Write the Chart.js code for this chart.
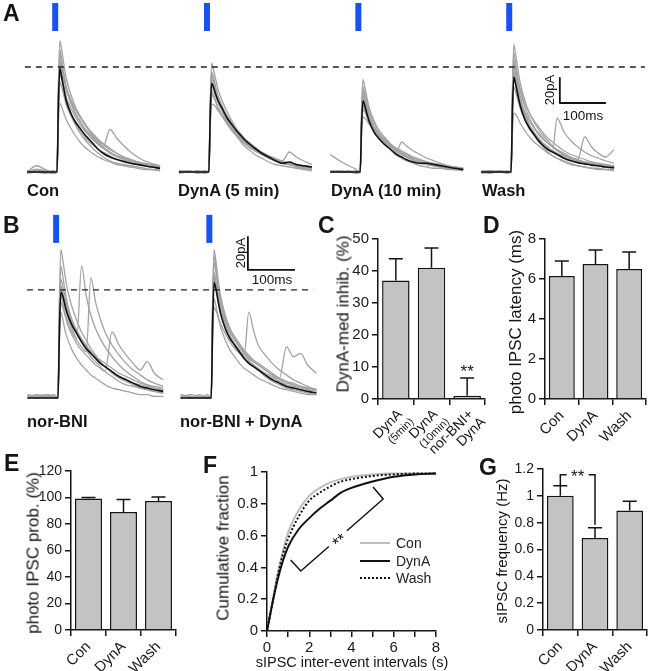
<!DOCTYPE html>
<html lang="en">
<head>
<meta charset="UTF-8">
<title>DynA inhibition of photo-evoked IPSCs</title>
<script src="https://cdn.jsdelivr.net/npm/chart.js"></script>
<style>
  body { margin: 0; background: #fff; font-family: "Liberation Sans", Arial, sans-serif; }
  #fig { position: relative; width: 650px; height: 671px; overflow: hidden; }
  #fig canvas { position: absolute; }
  .t { position: absolute; white-space: nowrap; line-height: 1; color: #151515; }
</style>
</head>
<body>
<div id="fig"></div>
<script>
// ---- trace data (pA), sampled at these times (ms) after the light pulse ----
const T = [-65, -45, -25, -8, 0, 3, 6, 10, 15, 20, 30, 40, 50, 60, 70, 80, 90, 100, 115, 130, 145, 160, 175, 190, 205, 224];

const conMean = [0,0,0,0,0,55,83,76,66,57,47,40,35,30,26,22,18,15,12,10,8.5,7,6,5,4,3];
const conGray = [
  [0,1,0,0,0,70,105,98,86,75,62,52,45,39,33,28,24,20,16,13,11,9,7,6,5,4],
  [1,0,-1,0,0,60,95,88,77,67,55,46,40,34,30,26,22,19,15,12,10,8,7,6,5,4],
  [0,2,0,-1,0,40,55,52,47,42,35,29,24,20,17,14,12,10,8,6,5,4,3,2,2,1],
  [0,0,1,0,0,55,88,80,69,59,47,38,31,26,22,18,15,12,9,7,6,5,4,3,2,2],
  [0,5,2,0,0,50,78,74,67,60,51,44,38,33,29,25,22,20,34,27,21,16,12,9,7,5],
  [-1,0,0,1,0,62,90,85,76,68,58,50,44,38,33,29,25,22,18,15,12,10,8,6,5,4],
  [0,0,0,0,0,65,98,90,78,68,56,47,41,35,31,27,23,20,16,13,11,9,8,6,5,4],
  [1,1,0,0,0,48,72,68,61,54,45,38,33,28,24,21,18,16,13,10,8,7,6,5,4,3],
  [-1,2,1,-1,0,58,86,82,74,66,57,50,44,39,34,30,26,23,19,15,12,10,8,7,6,5]
];
const dyn5Mean = [0,0,0,0,0,45,71,68,62,57,50,43,38,33,29,25,22,19,15,12,9,7,8,6,5,4];
const dyn5Gray = [
  [0,0,1,0,0,55,87,82,74,66,56,48,41,35,30,26,22,19,15,12,10,8,6,5,4,3],
  [1,0,0,-1,0,48,75,71,65,59,51,44,38,33,28,24,21,18,14,11,9,7,6,5,4,3],
  [0,1,0,0,0,35,54,54,52,49,44,39,34,30,26,23,20,17,14,11,9,7,6,4,3,2],
  [0,0,0,1,0,45,68,66,61,56,48,41,36,31,27,24,21,18,15,13,11,9,16,12,9,6],
  [-1,0,0,0,0,50,78,73,65,58,48,40,34,29,24,20,17,14,11,8,6,5,4,3,2,1],
  [0,1,-1,0,0,44,65,62,57,52,45,39,34,30,26,23,20,18,15,12,10,8,7,6,5,4],
  [0,0,0,0,0,52,80,76,68,61,52,45,39,34,30,26,23,20,16,13,10,8,7,5,4,3],
  [1,0,0,0,0,40,62,60,56,51,44,38,33,29,25,22,19,17,14,11,9,8,7,6,5,4]
];
const dyn10Mean = [0,0,0,0,0,38,57,53,46,40,32,27,23,20,17,14,12,10,8,7,7,6,5,4,3,2];
const dyn10Gray = [
  [0,0,0,0,0,50,74,68,59,51,41,34,29,25,21,18,15,13,10,8,6,5,4,3,2,2],
  [14,9,5,2,0,40,62,57,50,44,36,30,26,22,19,16,14,12,9,7,6,5,4,3,2,2],
  [0,1,0,0,0,30,44,43,41,38,34,30,27,24,21,19,17,15,12,10,8,6,5,4,3,2],
  [0,0,1,0,0,40,60,56,49,43,35,30,26,22,19,17,24,21,17,14,11,9,7,5,4,3],
  [0,0,0,-1,0,42,65,60,52,45,36,29,24,20,16,13,11,9,7,5,4,3,3,2,2,1],
  [1,0,0,0,0,36,53,50,45,41,35,31,27,24,21,18,16,14,12,10,8,7,6,5,4,3],
  [0,1,0,0,0,44,68,63,55,48,39,32,27,23,20,17,15,13,11,9,7,6,5,4,3,2],
  [1,0,0,1,0,34,50,48,44,40,34,29,25,22,19,16,14,12,10,8,7,6,5,4,3,3]
];
const washMean = [0,0,0,0,0,50,76,70,61,53,42,35,30,25,21,18,16,14,11,9,7.5,6.5,5.5,5,4,3.5];
const washGray = [
  [0,0,1,0,0,68,102,94,82,71,57,47,40,34,29,25,21,18,14,11,9,7,6,5,4,3],
  [0,1,0,0,0,55,85,78,68,59,47,38,32,27,23,20,17,43,32,25,20,16,13,11,9,7],
  [0,0,0,-1,0,52,80,74,64,56,45,37,31,26,22,19,17,15,13,11,10,28,20,15,12,18],
  [0,1,0,0,0,32,47,46,43,39,33,28,24,21,18,15,13,11,9,7,5,4,3,2,2,1],
  [0,0,0,1,0,60,90,82,70,60,46,36,29,24,20,16,13,11,8,6,5,4,3,3,2,2],
  [-1,0,0,0,0,45,68,64,57,51,42,35,30,26,22,19,17,15,12,10,8,7,6,5,4,3],
  [0,0,0,0,0,63,95,87,75,65,52,43,36,31,27,23,20,17,14,11,9,8,7,6,5,4],
  [1,0,0,0,0,50,75,71,64,57,48,41,35,30,26,23,20,18,15,12,10,8,7,6,5,4],
  [0,-1,1,0,0,58,88,83,74,66,55,47,41,36,31,27,24,21,17,14,12,10,8,7,6,5]
];
const nbMean = [0,0,0,0,0,40,64,62,56,51,44,39,34,30,27,24,21,19,16,13,11,9,7,6,5,4];
const nbGray = [
  [1,0,2,1,0,60,90,84,74,66,55,47,40,35,30,26,22,19,15,12,10,8,6,5,4,3],
  [0,2,0,1,0,45,68,64,56,50,42,36,80,62,50,42,36,31,25,20,16,13,10,8,6,5],
  [2,1,0,1,0,42,62,58,52,47,40,35,31,28,73,58,48,40,32,26,21,17,14,11,9,7],
  [0,1,2,0,0,38,58,55,50,45,38,33,29,26,23,20,18,16,40,32,26,21,17,22,15,11],
  [1,0,1,2,0,35,52,48,41,36,29,24,20,17,14,12,10,8,6,5,4,3,2,2,1,1],
  [0,1,0,1,0,48,72,68,61,55,47,41,36,32,28,25,22,19,16,13,11,9,8,7,6,5],
  [2,0,1,0,0,55,80,74,65,57,47,40,34,29,25,22,19,16,13,10,8,7,6,5,4,3],
  [0,2,1,0,0,44,66,63,58,53,46,40,35,31,28,25,23,21,18,15,13,11,9,8,7,6]
];
const nbDynMean = [0,0,0,0,0,45,70,66,58,51,42,36,32,28,24,21,19,17,14,11,9,7,6,5,4,3];
const nbDynGray = [
  [1,0,1,0,0,60,90,83,71,62,50,42,36,31,27,23,20,17,13,10,8,6,5,4,3,2],
  [0,2,1,0,0,48,74,69,61,54,45,38,33,29,26,52,41,32,26,21,17,14,11,9,7,5],
  [0,1,0,2,0,50,76,71,63,56,47,40,35,31,27,24,22,20,17,14,12,31,25,27,20,15],
  [2,0,1,0,0,40,60,56,49,43,35,29,25,21,18,16,14,12,10,8,6,5,4,3,2,2],
  [0,1,0,1,0,55,82,76,66,58,48,41,36,32,28,25,22,20,17,14,12,10,8,7,6,5],
  [1,0,2,0,0,35,55,53,49,45,39,34,30,27,24,21,19,17,14,12,10,8,7,6,5,4],
  [0,1,0,0,0,58,86,79,68,60,49,42,37,33,29,26,23,21,18,15,12,10,9,7,6,5],
  [2,1,0,1,0,50,72,67,59,52,43,37,32,28,25,22,20,18,15,13,11,9,8,7,6,5]
];

// ---- summary data ----
const cLabels = [['DynA', '(5min)'], ['DynA', '(10min)'], ['nor-BNI+', 'DynA']];
const cMean = [37, 41, 1];
const cSem = [6.8, 6.2, 5.6];

const condLabels = ['Con', 'DynA', 'Wash'];
const dMean = [6.15, 6.75, 6.5];
const dSem = [0.75, 0.7, 0.85];
const eMean = [99.2, 89, 97.4];
const eSem = [0.8, 9.5, 3];
const gMean = [1.0, 0.685, 0.89];
const gSem = [0.075, 0.077, 0.07];

const fX = [0, 0.25, 0.5, 0.75, 1, 1.5, 2, 2.5, 3, 3.5, 4, 5, 6, 7, 8];
const fCon = [0, 0.18, 0.36, 0.5, 0.62, 0.76, 0.85, 0.9, 0.935, 0.955, 0.97, 0.985, 0.99, 0.99, 0.99];
const fDynA = [0, 0.17, 0.32, 0.44, 0.53, 0.64, 0.71, 0.77, 0.82, 0.87, 0.9, 0.94, 0.97, 0.985, 0.99];
const fWash = [0, 0.17, 0.34, 0.48, 0.58, 0.72, 0.82, 0.87, 0.91, 0.94, 0.955, 0.975, 0.985, 0.99, 0.99];

Chart.defaults.font.family = '"Liberation Sans", Arial, sans-serif';
Chart.defaults.color = '#1a1a1a';
Chart.defaults.animation = false;
Chart.defaults.responsive = false;
Chart.defaults.devicePixelRatio = 1;
Chart.defaults.events = [];
Chart.defaults.plugins.legend.display = false;
Chart.defaults.plugins.tooltip.enabled = false;
Chart.defaults.elements.point.radius = 0;

const fig = document.getElementById('fig');
const INK = '#151515';

function addCanvas(x, y, w, h) {
  const c = document.createElement('canvas');
  c.width = w; c.height = h;
  c.style.left = x + 'px'; c.style.top = y + 'px';
  c.style.width = w + 'px'; c.style.height = h + 'px';
  fig.appendChild(c);
  return c;
}

function txt(s, x, base, size, o = {}) {
  const d = document.createElement('div');
  d.className = 't';
  d.textContent = s;
  d.style.fontSize = size + 'px';
  if (o.bold) d.style.fontWeight = 'bold';
  d.style.left = x + 'px';
  if (o.rot) {
    d.style.top = base + 'px';
    d.style.transform = 'translate(-50%,-50%) rotate(-90deg)';
  } else {
    d.style.top = (base - 0.85 * size) + 'px';
    if (o.center) d.style.transform = 'translateX(-50%)';
  }
  fig.appendChild(d);
}

// ---- trace rows ----
const STIM_T = -4, BAR_PA = 20, BAR_MS = 100;

function traceRow(c, s) {
  const ds = [];
  s.groups.forEach((g, k) => {
    const off = s.offsets[k];
    const pts = v => T.map((t, i) => ({ x: t + off, y: v[i] }));
    ds.push({ data: pts(g[0]), borderColor: '#111', borderWidth: 1.6, order: 0, cubicInterpolationMode: 'monotone' });
    g[1].forEach(v => ds.push({ data: pts(v), borderColor: '#a3a3a3', borderWidth: 1.3, order: 2, cubicInterpolationMode: 'monotone' }));
    ds.push({ data: [{ x: off + STIM_T, y: s.stim[0] }, { x: off + STIM_T, y: s.stim[1] }], borderColor: '#1652ee', borderWidth: 6, order: 0 });
  });
  ds.push({ data: [{ x: s.dashX[0], y: s.dashY }, { x: s.dashX[1], y: s.dashY }], borderColor: '#222', borderWidth: 1.4, borderDash: [6, 5], order: 1 });
  const bx = s.bar[0], by = s.bar[1];
  ds.push({ data: [{ x: bx, y: by + BAR_PA }, { x: bx, y: by }, { x: bx + BAR_MS, y: by }], borderColor: '#111', borderWidth: 1.8, order: 0 });
  return new Chart(c, {
    type: 'line',
    data: { datasets: ds },
    options: {
      layout: { padding: 0 },
      datasets: { line: { pointRadius: 0, borderJoinStyle: 'round' } },
      scales: {
        x: { type: 'linear', display: false, min: s.x[0], max: s.x[1] },
        y: { type: 'linear', display: false, min: s.y[0], max: s.y[1] }
      }
    }
  });
}

traceRow(addCanvas(0, 0, 650, 200), {
  groups: [[conMean, conGray], [dyn5Mean, dyn5Gray], [dyn10Mean, dyn10Gray], [washMean, washGray]],
  offsets: [0, 330, 659, 987],
  x: [-124, 1289], y: [-22.4, 137.6],
  stim: [112.8, 135.2], dashX: [-70, 1278], dashY: 84, bar: [1093, 55.2]
});
traceRow(addCanvas(0, 200, 330, 230), {
  groups: [[nbMean, nbGray], [nbDynMean, nbDynGray]],
  offsets: [0, 326],
  x: [-123.4, 578.7], y: [-19.4, 120],
  stim: [94, 111], dashX: [-66, 543], dashY: 65.5, bar: [404, 77.6]
});

// ---- bar panels ----
const fmt = v => String(Math.round(v * 10) / 10);

function errorBars(mean, sem, cap) {
  return {
    id: 'errbars',
    afterDatasetsDraw(chart) {
      const ctx = chart.ctx, y = chart.scales.y;
      ctx.save();
      ctx.strokeStyle = INK; ctx.lineWidth = 1.5;
      chart.getDatasetMeta(0).data.forEach((bar, i) => {
        const top = y.getPixelForValue(mean[i]), e = y.getPixelForValue(mean[i] + sem[i]);
        ctx.beginPath();
        ctx.moveTo(bar.x, top); ctx.lineTo(bar.x, e);
        ctx.moveTo(bar.x - cap, e); ctx.lineTo(bar.x + cap, e);
        ctx.stroke();
      });
      ctx.restore();
    }
  };
}

function axisStyle() {
  return {
    grid: { drawOnChartArea: false, tickLength: 6, color: INK, lineWidth: 1.5 },
    border: { color: INK, width: 1.5 }
  };
}

function barPanel(area, p) {
  const YW = 40, PT = 12, PR = p.pr, XH = 70;
  const c = addCanvas(area[0] - YW, area[1] - PT, area[2] - area[0] + YW + PR, area[3] - area[1] + PT + XH);
  const xTicks = { font: { size: 15 }, minRotation: 45, maxRotation: 45, autoSkip: false, padding: 2 };
  if (p.noXLabels) xTicks.callback = () => '';
  const xs = axisStyle(); xs.grid.offset = true;
  return new Chart(c, {
    type: 'bar',
    data: {
      labels: p.labels,
      datasets: [{ data: p.mean, backgroundColor: '#c3c3c3', borderColor: INK, borderWidth: 1.5, barPercentage: 0.77, categoryPercentage: 1 }]
    },
    options: {
      layout: { padding: { top: PT, right: PR, left: 0, bottom: 0 } },
      scales: {
        x: Object.assign(xs, { type: 'category', offset: true, ticks: xTicks, afterFit: s => { s.height = XH; } }),
        y: Object.assign(axisStyle(), {
          type: 'linear', min: 0, max: p.max,
          ticks: { stepSize: p.step, font: { size: p.fs }, padding: 3, callback: (v, i) => (i % p.every === 0 ? fmt(v) : '') },
          afterFit: s => { s.width = YW; }
        })
      }
    },
    plugins: [errorBars(p.mean, p.sem, 7)].concat(p.extra || [])
  });
}

// C: rotated two-line category labels and significance stars
const cExtras = {
  id: 'cExtras',
  afterDraw(chart) {
    const ctx = chart.ctx, x = chart.scales.x, y = chart.scales.y;
    const sizes = [[14, 11], [14, 11], [14, 14]];
    ctx.save();
    ctx.fillStyle = INK; ctx.textAlign = 'right'; ctx.textBaseline = 'middle';
    cLabels.forEach((lines, i) => {
      ctx.save();
      ctx.translate(x.getPixelForTick(i), x.top + 9);
      ctx.rotate(-Math.PI / 4);
      lines.forEach((ln, j) => {
        ctx.font = sizes[i][j] + 'px "Liberation Sans", Arial, sans-serif';
        ctx.fillText(ln, j ? 3 : 0, 6 + j * 14);
      });
      ctx.restore();
    });
    ctx.font = '17px "Liberation Sans", Arial, sans-serif';
    ctx.textAlign = 'center'; ctx.textBaseline = 'alphabetic';
    const bx = chart.getDatasetMeta(0).data[2].x;
    ctx.fillText('**', bx, y.getPixelForValue(cMean[2] + cSem[2]) - 1);
    ctx.restore();
  }
};

// G: significance bracket between Con and DynA
const gBracket = {
  id: 'gBracket',
  afterDatasetsDraw(chart) {
    const ctx = chart.ctx, y = chart.scales.y, m = chart.getDatasetMeta(0).data;
    const x0 = m[0].x, x1 = m[1].x, yt = y.getPixelForValue(1.157);
    const y0 = y.getPixelForValue(gMean[0] + gSem[0]), y1 = y.getPixelForValue(gMean[1] + gSem[1]) - 3;
    const xm = (x0 + x1) / 2;
    ctx.save();
    ctx.strokeStyle = INK; ctx.lineWidth = 1.5;
    ctx.beginPath();
    ctx.moveTo(x0, y0); ctx.lineTo(x0, yt); ctx.lineTo(xm - 11, yt);
    ctx.moveTo(xm + 11, yt); ctx.lineTo(x1, yt); ctx.lineTo(x1, y1);
    ctx.stroke();
    ctx.fillStyle = INK;
    ctx.font = '17px "Liberation Sans", Arial, sans-serif';
    ctx.textAlign = 'center'; ctx.textBaseline = 'middle';
    ctx.fillText('**', xm, yt + 3);
    ctx.restore();
  }
};

barPanel([378, 239, 485, 399], { labels: cLabels.map(l => l.join(' ')), mean: cMean, sem: cSem, max: 50, step: 10, every: 1, fs: 15, pr: 8, noXLabels: true, extra: [cExtras] });
barPanel([545, 239, 646, 399], { labels: condLabels, mean: dMean, sem: dSem, max: 8, step: 1, every: 2, fs: 15, pr: 4 });
barPanel([71, 471, 176, 630], { labels: condLabels, mean: eMean, sem: eSem, max: 120, step: 10, every: 2, fs: 14, pr: 8 });
barPanel([543, 469, 647, 630], { labels: condLabels, mean: gMean, sem: gSem, max: 1.2, step: 0.1, every: 2, fs: 14, pr: 3, extra: [gBracket] });

// ---- F: cumulative distributions ----
const fStyle = [
  { label: 'Con', data: fCon, borderColor: '#bdbdbd', borderWidth: 2, order: 2 },
  { label: 'DynA', data: fDynA, borderColor: '#111', borderWidth: 2, order: 0 },
  { label: 'Wash', data: fWash, borderColor: '#111', borderWidth: 2, borderDash: [2, 2], order: 1 }
];

const fExtras = {
  id: 'fExtras',
  afterDatasetsDraw(chart) {
    const ctx = chart.ctx, x = chart.scales.x, y = chart.scales.y;
    const P = [[1.12, 0.447], [1.6, 0.377], [5.5, 0.83], [5.02, 0.906]].map(p => [x.getPixelForValue(p[0]), y.getPixelForValue(p[1])]);
    const a = P[1], b = P[2];
    const len = Math.hypot(b[0] - a[0], b[1] - a[1]);
    const ux = (b[0] - a[0]) / len, uy = (b[1] - a[1]) / len;
    const mx = a[0] + 0.45 * (b[0] - a[0]), my = a[1] + 0.45 * (b[1] - a[1]);
    ctx.save();
    ctx.strokeStyle = INK; ctx.lineWidth = 1.5;
    ctx.beginPath();
    ctx.moveTo(P[0][0], P[0][1]); ctx.lineTo(a[0], a[1]); ctx.lineTo(mx - ux * 12, my - uy * 12);
    ctx.moveTo(mx + ux * 12, my + uy * 12); ctx.lineTo(b[0], b[1]); ctx.lineTo(P[3][0], P[3][1]);
    ctx.stroke();
    ctx.fillStyle = INK;
    ctx.translate(mx, my); ctx.rotate(Math.atan2(uy, ux));
    ctx.font = '17px "Liberation Sans", Arial, sans-serif';
    ctx.textAlign = 'center'; ctx.textBaseline = 'middle';
    ctx.fillText('**', 0, 4);
    ctx.restore();

    // legend
    ctx.save();
    ctx.font = '14px "Liberation Sans", Arial, sans-serif';
    ctx.textBaseline = 'middle';
    const rows = [543, 561, 578];
    chart.data.datasets.forEach((d, i) => {
      const ly = rows[i] - chart.canvas.offsetTop;
      const lx = 360 - chart.canvas.offsetLeft;
      ctx.strokeStyle = d.borderColor; ctx.lineWidth = d.borderWidth;
      ctx.setLineDash(d.borderDash || []);
      ctx.beginPath(); ctx.moveTo(lx, ly); ctx.lineTo(lx + 30, ly); ctx.stroke();
      ctx.fillStyle = '#222';
      ctx.fillText(d.label, lx + 36, ly + 1);
    });
    ctx.restore();
  }
};

(function () {
  const YW = 40, PT = 12, PR = 12, XH = 30;
  const area = [267, 472, 436, 631];
  const c = addCanvas(area[0] - YW, area[1] - PT, area[2] - area[0] + YW + PR, area[3] - area[1] + PT + XH);
  new Chart(c, {
    type: 'line',
    data: {
      datasets: fStyle.map(s => Object.assign({}, s, {
        data: fX.map((v, i) => ({ x: v, y: s.data[i] })),
        cubicInterpolationMode: 'monotone', pointRadius: 0
      }))
    },
    options: {
      layout: { padding: { top: PT, right: PR, left: 0, bottom: 0 } },
      scales: {
        x: Object.assign(axisStyle(), {
          type: 'linear', min: 0, max: 8,
          ticks: { stepSize: 1, font: { size: 15 }, padding: 2, callback: v => (v % 2 === 0 ? fmt(v) : '') },
          afterFit: s => { s.height = XH; }
        }),
        y: Object.assign(axisStyle(), {
          type: 'linear', min: 0, max: 1,
          ticks: { stepSize: 0.1, font: { size: 15 }, padding: 3, callback: v => (Math.round(v * 10) % 2 === 0 ? fmt(v) : '') },
          afterFit: s => { s.width = YW; }
        })
      }
    },
    plugins: [fExtras]
  });
})();

// ---- text ----
txt('A', 3, 22, 23, { bold: true });
txt('B', 3, 234, 23, { bold: true });
txt('C', 318, 234, 23, { bold: true });
txt('D', 483, 234, 23, { bold: true });
txt('E', 4, 472, 23, { bold: true });
txt('F', 203, 474, 23, { bold: true });
txt('G', 479, 476, 23, { bold: true });

txt('Con', 27, 196, 16.5, { bold: true });
txt('DynA (5 min)', 178, 196, 16.5, { bold: true });
txt('DynA (10 min)', 331, 196, 16.5, { bold: true });
txt('Wash', 482, 196, 16.5, { bold: true });
txt('nor-BNI', 27, 427, 16.5, { bold: true });
txt('nor-BNI + DynA', 180, 427, 16.5, { bold: true });

txt('20pA', 549, 90, 13, { rot: true });
txt('100ms', 583, 120, 13.5, { center: true });
txt('20pA', 240, 253, 13, { rot: true });
txt('100ms', 272, 284, 13.5, { center: true });

txt('DynA-med inhib. (%)', 343, 314, 17, { rot: true });
txt('photo IPSC latency (ms)', 515, 322, 17, { rot: true });
txt('photo IPSC prob. (%)', 33, 553, 17, { rot: true });
txt('Cumulative fraction', 223, 548, 17, { rot: true });
txt('sIPSC frequency (Hz)', 501, 551, 15, { rot: true });
txt('sIPSC inter-event intervals (s)', 352, 667, 14.5, { center: true });
</script>
</body>
</html>
